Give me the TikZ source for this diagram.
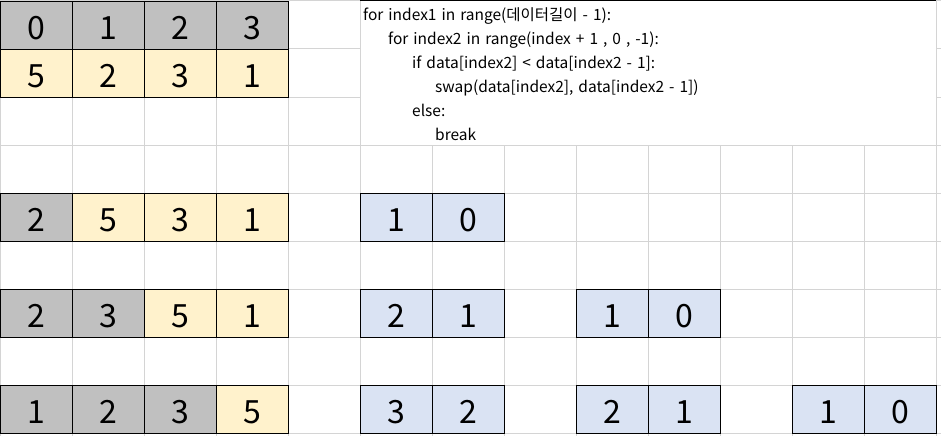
\documentclass[tikz,border=0pt]{standalone}
\usepackage{fontspec}
\setmainfont{Noto Sans CJK KR}
\usepackage{xcolor}
\usetikzlibrary{positioning}
\definecolor{cellgray}{HTML}{C0C0C0}
\definecolor{cellyellow}{HTML}{FFF2CC}
\definecolor{cellblue}{HTML}{DAE3F3}
\definecolor{gridgray}{HTML}{D4D4D4}
\newcommand\codefont{\fontsize{15.5}{15.5}\selectfont\spaceskip 5pt\relax}
\tikzset{
  cell/.style={draw=black,line width=1pt,minimum width=72pt,minimum height=48pt,
    inner sep=0pt,anchor=north west,text height=28pt,text depth=0pt,
    font=\fontsize{32}{32}\selectfont},
  sorted/.style={cell,fill=cellgray},
  unsorted/.style={cell,fill=cellyellow},
  pair/.style={cell,fill=cellblue},
  codeline/.style={anchor=base west,inner sep=0pt,font=\codefont}
}

\begin{document}
\begin{tikzpicture}[x=1pt,y=-1pt]
    \useasboundingbox (0,0) rectangle (941,436);
    % sheet grid
    \foreach \c in {0,...,13} \draw[gridgray,line width=1pt] (72*\c,0)--(72*\c,436);
    \foreach \r in {0,...,9} \draw[gridgray,line width=1pt] (0,1+48*\r)--(941,1+48*\r);
    % code box
    \fill[white] (360.5,1.5) rectangle (935.5,144.5);
    \draw[black,line width=1pt] (360,1)--(936,1);
    \node[codeline] (code1) at (363,20.5) {for index1 in range(데이터길이 - 1):};
    \node[codeline] (code2) at (388,44.5) {for index2 in range(index + 1 , 0 , -1):};
    \node[codeline] (code3) at (412,68.5) {if data[index2] < data[index2 - 1]:};
    \node[codeline] (code4) at (435,92.5) {swap(data[index2], data[index2 - 1])};
    \node[codeline] (code5) at (412,116) {else:};
    \node[codeline] (code6) at (435,140) {break};
    % index row and data
    \foreach \v [count=\i from 0] in {0,1,2,3}
      \node[sorted] (idx\i) at (72*\i,1) {\v};
    \foreach \v [count=\i from 0] in {5,2,3,1}
      \node[unsorted] (data\i) at (72*\i,49) {\v};
    % pass 1
    \node[sorted] (pa0) at (0,193) {2};
    \foreach \v [count=\i from 1] in {5,3,1}
      \node[unsorted] (pa\i) at (72*\i,193) {\v};
    \node[pair] (sa0) at (360,193) {1};
    \node[pair] (sa1) at (432,193) {0};
    % pass 2
    \node[sorted] (pb0) at (0,289) {2};
    \node[sorted] (pb1) at (72,289) {3};
    \node[unsorted] (pb2) at (144,289) {5};
    \node[unsorted] (pb3) at (216,289) {1};
    \node[pair] (sb0) at (360,289) {2};
    \node[pair] (sb1) at (432,289) {1};
    \node[pair] (sb2) at (576,289) {1};
    \node[pair] (sb3) at (648,289) {0};
    % pass 3
    \foreach \v [count=\i from 0] in {1,2,3}
      \node[sorted] (pc\i) at (72*\i,385) {\v};
    \node[unsorted] (pc3) at (216,385) {5};
    \node[pair] (sc0) at (360,385) {3};
    \node[pair] (sc1) at (432,385) {2};
    \node[pair] (sc2) at (576,385) {2};
    \node[pair] (sc3) at (648,385) {1};
    \node[pair] (sc4) at (792,385) {1};
    \node[pair] (sc5) at (864,385) {0};
\end{tikzpicture}
\end{document}
